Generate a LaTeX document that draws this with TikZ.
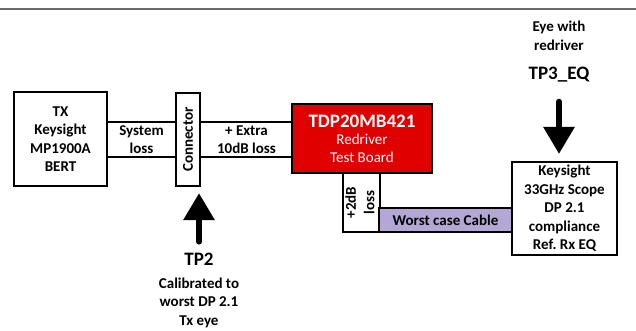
\documentclass[tikz,border=0pt]{standalone}
\usepackage{fontspec}
\setmainfont{Carlito}
\usepackage{tikz}
\usetikzlibrary{arrows.meta, positioning}
\definecolor{tdpred}{RGB}{224,0,0}
\definecolor{cablelav}{RGB}{180,167,214}
\definecolor{rulegray}{RGB}{105,105,105}

\begin{document}
\begin{tikzpicture}[x=1pt, y=-1pt,
    box/.style={draw, line width=2.2pt, align=center, inner sep=0pt,
      font=\bfseries\fontsize{15}{18.5}\selectfont},
    lbl/.style={align=center, inner sep=0pt,
      font=\bfseries\fontsize{15}{18.5}\selectfont},
    tplbl/.style={inner sep=0pt, font=\bfseries\fontsize{19}{22}\selectfont},
    bigarrow/.style={line width=6pt, line cap=round,
      -{Triangle[length=27pt, width=30pt]}}]
	\useasboundingbox (0,0) rectangle (636,330);
	% rule on top
	\draw[rulegray, line width=2pt] (0,9) -- (636,9);
	
	% signal chain
	\node[box, minimum width=93pt, minimum height=94pt] (tx) at (60.5,139) {TX\\Keysight\\MP1900A\\BERT};
	\node[box, minimum width=24pt, minimum height=93pt] (conn) at (188,139.5) {\rotatebox{90}{Connector}};
	\node[lbl, minimum width=69pt, minimum height=35pt] (sys) at (141.5,139.5) {System\\loss};
	\node[lbl, minimum width=93pt, minimum height=35pt] (extra) at (246.5,139.5) {+ Extra\\10dB loss};
	\node[box, fill=tdpred, text=white, minimum width=140pt, minimum height=69pt,
	  font=\fontsize{15}{18}\selectfont] (tdp) at (362,138.5)
	  {{\fontsize{19}{22}\selectfont\bfseries TDP20MB421}\\[-1pt]Redriver\\Test Board};
	\node[box, minimum width=35pt, minimum height=59pt] (loss) at (361.5,202.5) {\rotatebox{90}{\begin{tabular}{@{}c@{}}+2dB\\loss\end{tabular}}};
	\node[box, fill=cablelav, minimum width=133pt, minimum height=24pt] (cable) at (445.5,220) {Worst case Cable};
	\node[box, minimum width=105pt, minimum height=93pt] (scope) at (564.5,208.5) {Keysight\\33GHz Scope\\DP 2.1\\compliance\\Ref.\ Rx EQ};
	
	% loss bands
	\draw[line width=2.2pt] (tx.east |- sys.north) -- (conn.west |- sys.north)
	  (tx.east |- sys.south) -- (conn.west |- sys.south);
	\draw[line width=2.2pt] (conn.east |- extra.north) -- (tdp.west |- extra.north)
	  (conn.east |- extra.south) -- (tdp.west |- extra.south);
	
	% test points
	\node[tplbl] (tp3) at (559,75) {TP3\_EQ};
	\node[lbl] (eyelbl) at (559,36) {Eye with\\redriver};
	\draw[bigarrow, shorten <=19pt, shorten >=7pt] (tp3.south) -- (tp3.south |- scope.north);
	
	\node[tplbl] (tp2) at (199,259) {TP2};
	\node[lbl] (caliblbl) at (199,302.5) {Calibrated to\\worst DP 2.1\\Tx eye};
	\draw[bigarrow, shorten <=11pt, shorten >=6pt] (tp2.north) -- (tp2.north |- conn.south);
\end{tikzpicture}
\end{document}
